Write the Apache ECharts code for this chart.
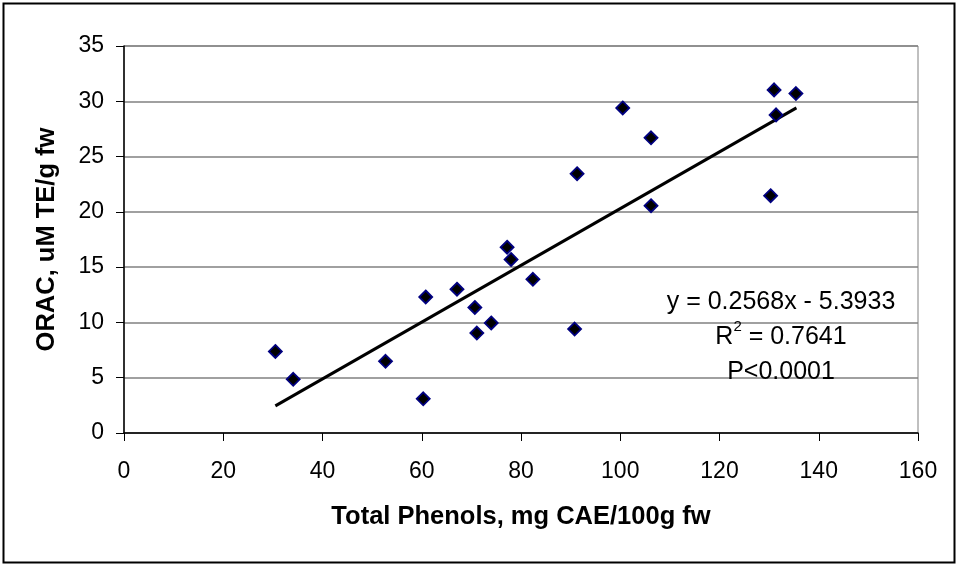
<!DOCTYPE html>
<html>
<head>
<meta charset="utf-8">
<script src="https://cdn.jsdelivr.net/npm/echarts@6/dist/echarts.min.js"></script>
<style>
html,body{margin:0;padding:0;background:#fff;}
#chart{width:958px;height:565px;}
</style>
</head>
<body>
<div id="chart"></div>
<script>
// Data
var phenols = [30.5, 34.1, 52.7, 60.3, 60.8, 67.1, 70.7, 71.1, 74.0, 77.2, 78.0, 82.4, 90.8, 91.3, 100.5, 106.2, 106.2, 130.3, 131.0, 131.4, 135.4];
var orac    = [7.38, 4.86, 6.48, 3.09, 12.3, 13.0, 11.35, 9.04, 9.95, 16.8, 15.7, 13.9, 9.4, 23.45, 29.4, 26.7, 20.56, 21.46, 31.03, 28.77, 30.7];
var trendX = [30.5, 135.5];
var trendY = [2.45, 29.4];
var xTicks = [0, 20, 40, 60, 80, 100, 120, 140, 160];
var yTicks = [0, 5, 10, 15, 20, 25, 30, 35];
var annotationLines = ['y = 0.2568x - 5.3933', 'R{sup|2} = 0.7641', 'P<0.0001'];

var points = phenols.map(function (x, i) { return [x, orac[i]]; });
var trend = trendX.map(function (x, i) { return [x, trendY[i]]; });

var chart = echarts.init(document.getElementById('chart'), null, {renderer: 'canvas'});
var font = 'Arial, "Liberation Sans", sans-serif';

chart.setOption({
  animation: false,
  backgroundColor: '#ffffff',
  grid: {
    left: 124, top: 46, right: 40, bottom: 132,
    show: true, borderColor: '#808080', borderWidth: 1, backgroundColor: 'transparent'
  },
  xAxis: {
    type: 'value',
    min: xTicks[0], max: xTicks[xTicks.length - 1], interval: 20,
    name: 'Total Phenols, mg CAE/100g fw',
    nameLocation: 'middle', nameGap: 71,
    nameTextStyle: {fontFamily: font, fontSize: 25.5, fontWeight: 'bold', color: '#000'},
    axisLine: {show: true, onZero: false, lineStyle: {color: '#000', width: 1.5}},
    axisTick: {show: true, inside: false, length: 8, lineStyle: {color: '#000', width: 1}},
    axisLabel: {fontFamily: font, fontSize: 23, color: '#000', margin: 27},
    splitLine: {show: false}
  },
  yAxis: {
    type: 'value',
    min: yTicks[0], max: yTicks[yTicks.length - 1], interval: 5,
    name: 'ORAC, uM TE/g fw',
    nameLocation: 'middle', nameGap: 64,
    nameTextStyle: {fontFamily: font, fontSize: 25.5, fontWeight: 'bold', color: '#000'},
    axisLine: {show: true, onZero: false, lineStyle: {color: '#000', width: 1.5}},
    axisTick: {show: true, inside: false, length: 8, lineStyle: {color: '#000', width: 1}},
    axisLabel: {fontFamily: font, fontSize: 23, color: '#000', margin: 20},
    splitLine: {show: true, lineStyle: {color: '#808080', width: 1.5}}
  },
  series: [
    {
      type: 'line',
      data: trend,
      symbol: 'none',
      lineStyle: {color: '#000', width: 3},
      z: 2,
      silent: true
    },
    {
      type: 'scatter',
      data: points,
      symbol: 'diamond',
      symbolSize: 13,
      itemStyle: {color: '#000000', borderColor: '#000080', borderWidth: 1.8, opacity: 1},
      z: 3
    }
  ],
  graphic: [
    {
      type: 'rect',
      shape: {x: 3.5, y: 3.5, width: 951, height: 559},
      style: {fill: 'none', stroke: '#000', lineWidth: 2},
      silent: true
    },
    {
      type: 'text',
      x: 781, y: 337,
      style: {
        text: annotationLines.join('\n'),
        fontFamily: font, fontSize: 25, fill: '#000',
        align: 'center', verticalAlign: 'middle', lineHeight: 35,
        rich: {sup: {fontSize: 15, verticalAlign: 'top', lineHeight: 35, padding: [0, 0, 14, 0]}}
      },
      z: 10
    }
  ]
});
</script>
</body>
</html>
